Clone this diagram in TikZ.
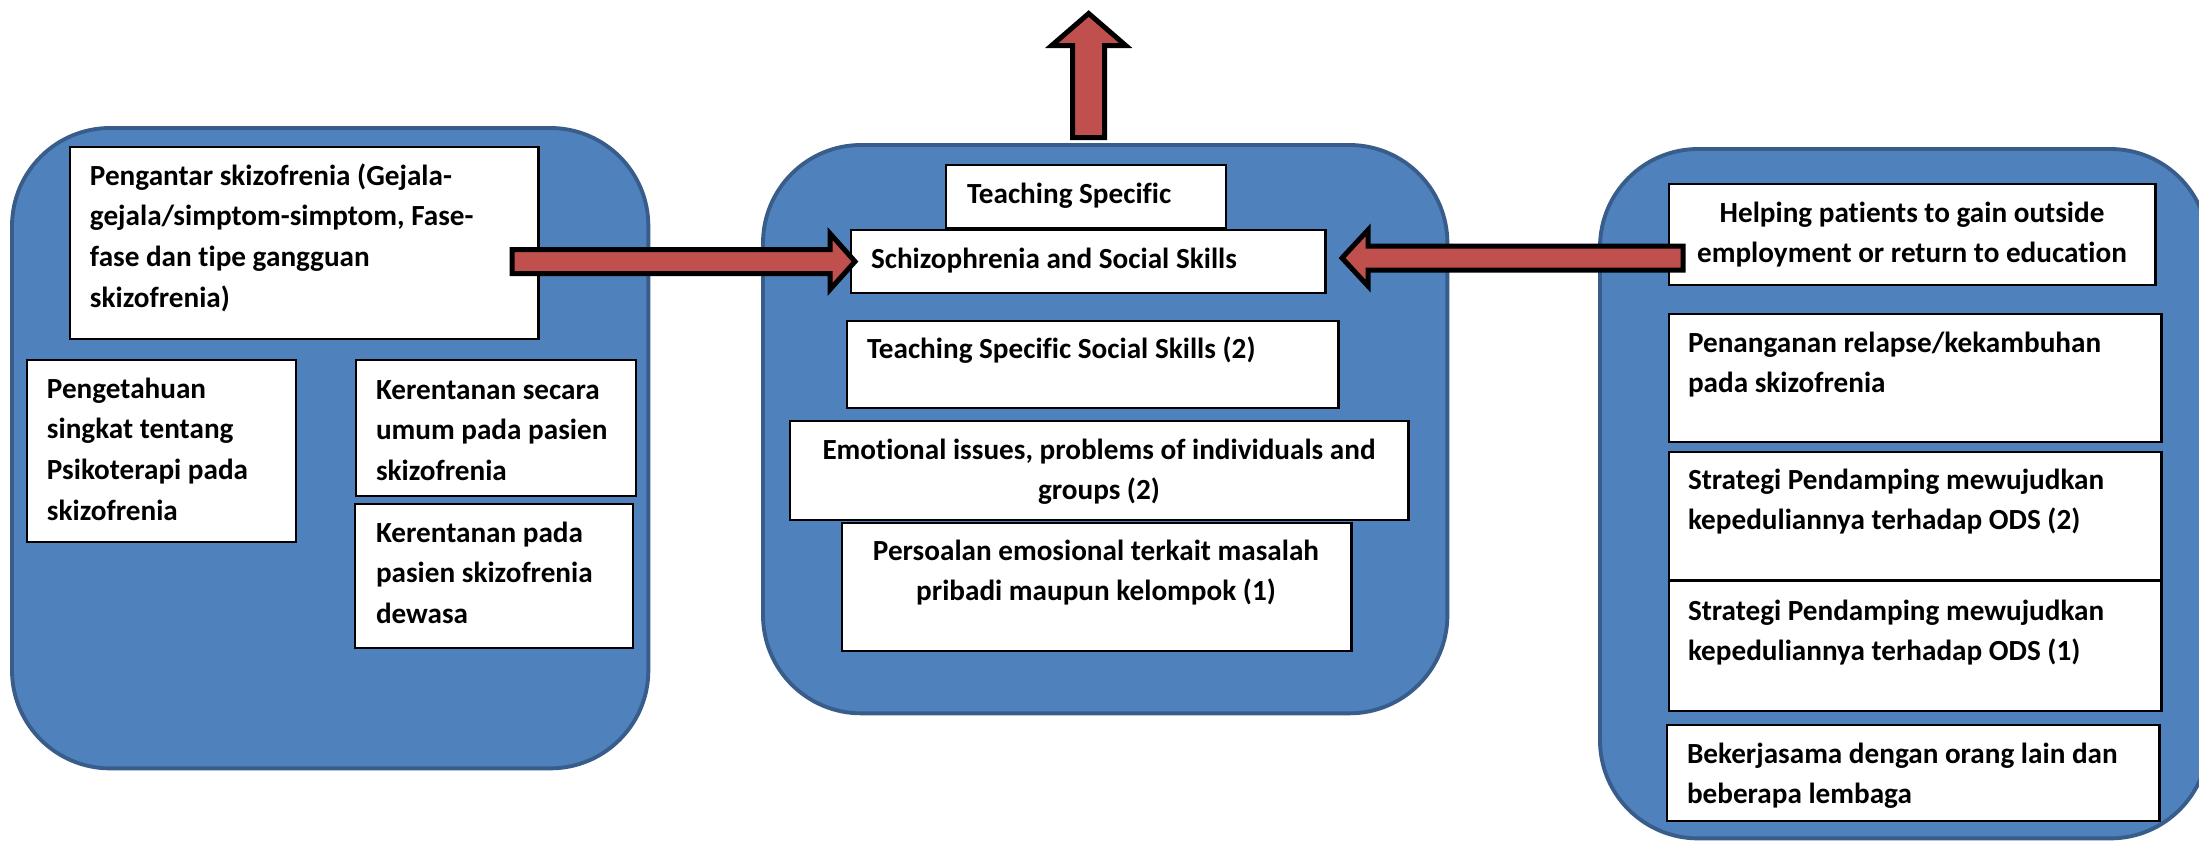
\documentclass[tikz,border=0pt]{standalone}
\usepackage{fontspec}
\setmainfont{Carlito}[RawFeature={-liga;-clig;-calt}]
\usetikzlibrary{calc}
\definecolor{panelfill}{HTML}{4F81BD}
\definecolor{paneldraw}{HTML}{385D8A}
\definecolor{arrowred}{HTML}{C0504D}
\newcommand\Ltext[1]{\vtop{\baselineskip=11.6pt\lineskip=0pt\lineskiplimit=-\maxdimen\halign{##\hfil\cr#1\crcr}}}
\newcommand\Ctext[1]{\vtop{\baselineskip=11.6pt\lineskip=0pt\lineskiplimit=-\maxdimen\halign{\hfil##\hfil\cr#1\crcr}}}
\begin{document}
\begin{tikzpicture}[x=0.01cm,y=-0.01cm,
  panel/.style={fill=panelfill,draw=paneldraw,line width=1.1pt,rounded corners=0.98cm,
    inner sep=0pt,outer sep=0pt,anchor=north west},
  box/.style={fill=white,draw=black,line width=0.7pt,inner sep=0pt,outer sep=0pt,anchor=north west},
  txt/.style={inner sep=0pt,outer sep=0pt,font=\fontsize{8.3pt}{11.6pt}\selectfont\bfseries},
  blockarrow/.style={fill=arrowred,draw=black,line width=1.42pt,line join=miter,miter limit=10}]
\useasboundingbox (0,0) rectangle (2199,842);
\fill[white] (0,0) rectangle (2199,842);
% panels
\node[panel,minimum width=6.36cm,minimum height=6.40cm] (LP) at (12,128) {};
\node[panel,minimum width=6.84cm,minimum height=5.68cm] (MP) at (763,145) {};
\node[panel,minimum width=6.08cm,minimum height=6.89cm] (RP) at (1600,149) {};
% left boxes
\node[box,minimum width=4.68cm,minimum height=1.92cm] (L1) at (70,147) {};
\node[box,minimum width=2.69cm,minimum height=1.82cm] (L2) at (27,360) {};
\node[box,minimum width=2.80cm,minimum height=1.36cm] (L3) at (356,360) {};
\node[box,minimum width=2.78cm,minimum height=1.44cm] (L4) at (355,504) {};
% middle boxes
\node[box,minimum width=2.80cm,minimum height=0.63cm] (M1) at (946,165) {};
\node[box,minimum width=4.74cm,minimum height=0.63cm] (M2) at (851,230) {};
\node[box,minimum width=4.91cm,minimum height=0.87cm] (M3) at (847,321) {};
\node[box,minimum width=6.18cm,minimum height=0.99cm] (M4) at (790,421) {};
\node[box,minimum width=5.09cm,minimum height=1.28cm] (M5) at (842,523) {};
% right boxes
\node[box,minimum width=4.86cm,minimum height=1.01cm] (R1) at (1669,184) {};
\node[box,minimum width=4.92cm,minimum height=1.28cm] (R2) at (1669,314) {};
\node[box,minimum width=4.92cm,minimum height=1.28cm] (R3) at (1669,452) {};
\node[box,minimum width=4.92cm,minimum height=1.30cm] (R4) at (1669,581) {};
\node[box,minimum width=4.92cm,minimum height=0.96cm] (R5) at (1667,725) {};
% texts
\node[txt,anchor=base west] (tL1) at (90,185) {\Ltext{Pengantar skizofrenia (Gejala-\cr gejala/simptom-simptom, Fase-\cr fase dan tipe gangguan\cr skizofrenia)}};
\node[txt,anchor=base west] (tL2) at (47,398) {\Ltext{Pengetahuan\cr singkat tentang\cr Psikoterapi pada\cr skizofrenia}};
\node[txt,anchor=base west] (tL3) at (376,399) {\Ltext{Kerentanan secara\cr umum pada pasien\cr skizofrenia}};
\node[txt,anchor=base west] (tL4) at (376,542) {\Ltext{Kerentanan pada\cr pasien skizofrenia\cr dewasa}};
\node[txt,anchor=base west] (tM1) at (967,203) {Teaching Specific};
\node[txt,anchor=base west] (tM2) at (871,268) {Schizophrenia and Social Skills};
\node[txt,anchor=base west] (tM3) at (867,358) {Teaching Specific Social Skills (2)};
\node[txt,anchor=base] (tM4) at (1099,459) {\Ctext{Emotional issues, problems of individuals and\cr groups (2)}};
\node[txt,anchor=base] (tM5) at (1096,560) {\Ctext{Persoalan emosional terkait masalah\cr pribadi maupun kelompok (1)}};
\node[txt,anchor=base] (tR1) at (1912,222) {\Ctext{Helping patients to gain outside\cr employment or return to education}};
\node[txt,anchor=base west] (tR2) at (1688,352) {\Ltext{Penanganan relapse/kekambuhan\cr pada skizofrenia}};
\node[txt,anchor=base west] (tR3) at (1688,489) {\Ltext{Strategi Pendamping mewujudkan\cr kepeduliannya terhadap ODS (2)}};
\node[txt,anchor=base west] (tR4) at (1688,620) {\Ltext{Strategi Pendamping mewujudkan\cr kepeduliannya terhadap ODS (1)}};
\node[txt,anchor=base west] (tR5) at (1687,763) {\Ltext{Bekerjasama dengan orang lain dan\cr beberapa lembaga}};
% arrows
\coordinate (laTip) at ($(M2.west)+(4,0)$);
\coordinate (raTip) at (1342,258);
\coordinate (uaTip) at ($(MP.north)+(-16.5,-131.5)$);
\draw[blockarrow,shift={(laTip)}] (0,0) -- (-25,-28) -- (-25,-12) -- (-343,-12) -- (-343,12) -- (-25,12) -- (-25,28) -- cycle;
\draw[blockarrow,shift={(raTip)}] (0,0) -- (26,-28) -- (26,-12) -- (341,-12) -- (341,12) -- (26,12) -- (26,28) -- cycle;
\draw[blockarrow,shift={(uaTip)}] (0,0) -- (37,32) -- (16,32) -- (16,124) -- (-16,124) -- (-16,32) -- (-37,32) -- cycle;
\end{tikzpicture}
\end{document}
